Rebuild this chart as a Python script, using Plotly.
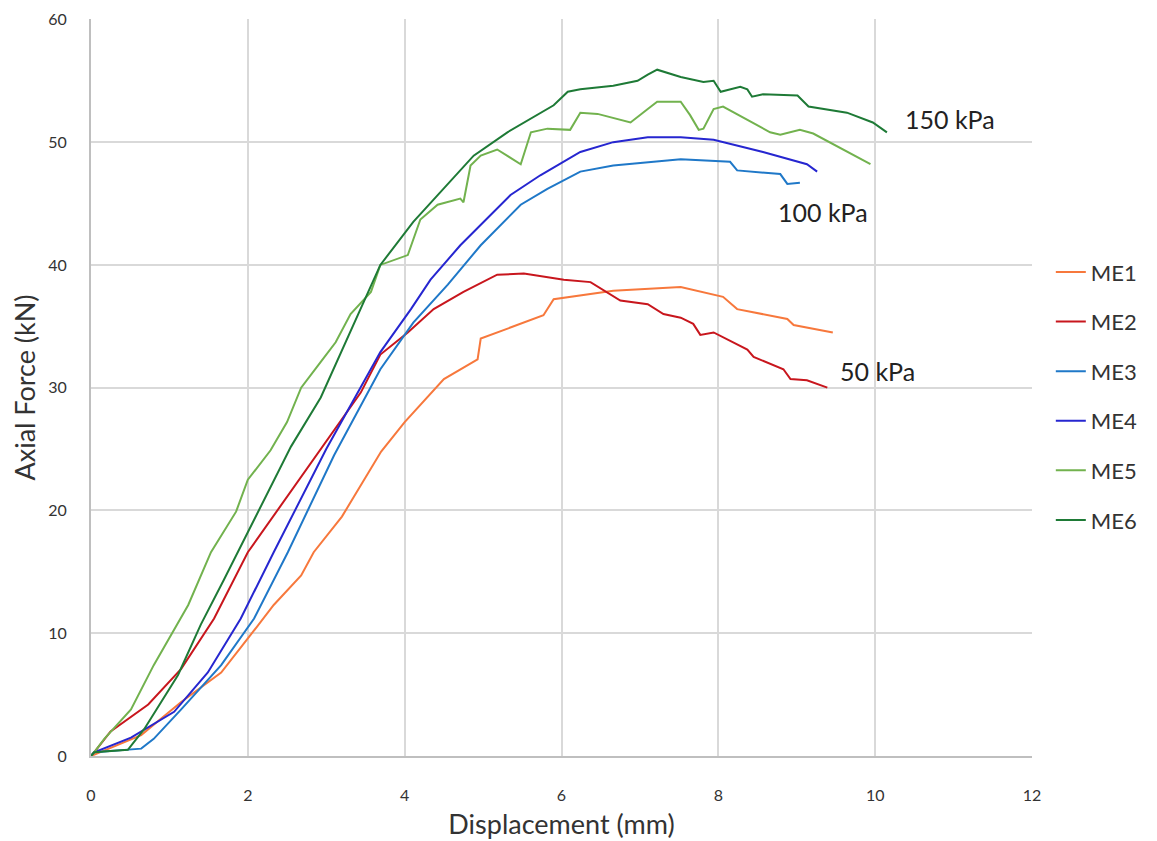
import plotly.graph_objects as go

me1_x = [0, 0.64, 1.15, 1.66, 2.04, 2.33, 2.68, 2.84, 3.2, 3.57, 3.7, 4.0, 4.5, 4.93, 4.97, 5.77, 5.9, 6.66, 7.52, 8.06, 8.24, 8.88, 8.96, 9.46]
me1_y = [0, 1.7, 4.4, 6.8, 9.9, 12.3, 14.7, 16.6, 19.5, 23.5, 24.8, 27.2, 30.7, 32.3, 34.0, 35.9, 37.2, 37.9, 38.2, 37.4, 36.4, 35.6, 35.1, 34.5]

me2_x = [0, 0.04, 0.25, 0.73, 1.15, 1.57, 2.0, 2.68, 3.18, 3.44, 3.69, 4.04, 4.37, 4.75, 5.18, 5.52, 6.03, 6.37, 6.75, 7.1, 7.3, 7.52, 7.68, 7.77, 7.94, 8.37, 8.45, 8.83, 8.92, 9.13, 9.39]
me2_y = [0, 0.3, 2.0, 4.2, 7.1, 11.2, 16.6, 22.7, 27.2, 29.6, 32.7, 34.5, 36.4, 37.8, 39.2, 39.3, 38.8, 38.6, 37.1, 36.8, 36.0, 35.7, 35.2, 34.3, 34.5, 33.1, 32.5, 31.5, 30.7, 30.6, 30.0]

me3_x = [0, 0.04, 0.64, 0.8, 1.15, 1.66, 2.08, 2.51, 3.1, 3.69, 4.11, 4.55, 4.97, 5.48, 5.82, 6.24, 6.66, 7.52, 8.15, 8.24, 8.79, 8.88, 9.04]
me3_y = [0, 0.3, 0.6, 1.4, 3.8, 7.4, 11.2, 16.6, 24.5, 31.5, 35.3, 38.4, 41.6, 44.9, 46.2, 47.6, 48.1, 48.6, 48.4, 47.7, 47.4, 46.6, 46.7]

me4_x = [0, 0.04, 0.51, 1.06, 1.49, 1.91, 2.33, 3.0, 3.69, 4.08, 4.33, 4.71, 5.35, 5.73, 6.24, 6.66, 7.1, 7.52, 7.94, 8.57, 9.13, 9.26]
me4_y = [0, 0.3, 1.5, 3.6, 6.8, 11.2, 16.6, 25.0, 32.9, 36.4, 38.8, 41.6, 45.7, 47.3, 49.2, 50.0, 50.4, 50.4, 50.2, 49.2, 48.2, 47.6]

me5_x = [0, 0.04, 0.17, 0.51, 0.8, 1.24, 1.53, 1.85, 2.0, 2.29, 2.5, 2.68, 2.93, 3.12, 3.31, 3.57, 3.69, 4.04, 4.2, 4.42, 4.71, 4.75, 4.84, 4.97, 5.18, 5.39, 5.48, 5.61, 5.82, 6.11, 6.24, 6.46, 6.88, 7.1, 7.22, 7.52, 7.64, 7.75, 7.81, 7.94, 8.06, 8.66, 8.79, 9.04, 9.21, 9.94]
me5_y = [0, 0.3, 1.4, 3.8, 7.4, 12.3, 16.6, 19.9, 22.5, 24.9, 27.2, 30.0, 32.1, 33.7, 36.0, 37.8, 40.0, 40.8, 43.7, 44.9, 45.4, 45.1, 48.1, 48.9, 49.4, 48.6, 48.2, 50.8, 51.1, 51.0, 52.4, 52.3, 51.6, 52.7, 53.3, 53.3, 52.2, 51.0, 51.1, 52.7, 52.9, 50.8, 50.6, 51.0, 50.7, 48.2]

me6_x = [0, 0.04, 0.47, 0.68, 1.11, 1.4, 1.69, 1.87, 2.17, 2.55, 2.93, 3.25, 3.69, 4.11, 4.42, 4.88, 5.31, 5.61, 5.9, 6.08, 6.24, 6.66, 6.97, 7.1, 7.22, 7.52, 7.81, 7.94, 7.99, 8.03, 8.28, 8.37, 8.43, 8.57, 9.01, 9.15, 9.64, 9.97, 10.15]
me6_y = [0, 0.3, 0.5, 2.2, 6.6, 10.7, 14.3, 16.6, 20.3, 25.2, 29.2, 33.7, 40.0, 43.5, 45.7, 48.9, 50.8, 51.9, 53.0, 54.1, 54.3, 54.6, 55.0, 55.5, 55.9, 55.3, 54.9, 55.0, 54.5, 54.1, 54.5, 54.3, 53.7, 53.9, 53.8, 52.9, 52.4, 51.6, 50.8]

names = ["ME1", "ME2", "ME3", "ME4", "ME5", "ME6"]
colors = ["#F7783C", "#C8161D", "#1F78C8", "#2626D0", "#72B24E", "#1E7A36"]
xs = [me1_x, me2_x, me3_x, me4_x, me5_x, me6_x]
ys = [me1_y, me2_y, me3_y, me4_y, me5_y, me6_y]

labels = ["150 kPa", "100 kPa", "50 kPa"]
label_x = [10.95, 9.34, 10.03]
label_y = [51.9, 44.3, 31.4]

FONT = "Lato, 'Open Sans', sans-serif"

fig = go.Figure()
for n, c, x, y in zip(names, colors, xs, ys):
    fig.add_trace(go.Scatter(x=x, y=y, mode="lines", name=n, legendgroup=n,
                             line=dict(color=c, width=2)))

for t, lx, ly in zip(labels, label_x, label_y):
    fig.add_annotation(x=lx, y=ly, text=t, showarrow=False,
                       font=dict(family=FONT, size=25, color="#222222"))

fig.update_layout(
    width=1157, height=841,
    margin=dict(l=83, r=133, t=11, b=93, autoexpand=False),
    paper_bgcolor="white", plot_bgcolor="white",
    font=dict(family=FONT, size=16, color="#333333"),
    legend=dict(x=1.02, y=0.685, xanchor="left", yanchor="top",
                font=dict(size=22, color="#333333"), tracegroupgap=18,
                bgcolor="rgba(0,0,0,0)"),
    xaxis=dict(range=[0, 12], dtick=2, showgrid=True, gridcolor="#D9D9D9", gridwidth=2,
               showline=True, linecolor="#BFBFBF", linewidth=2, zeroline=False,
               automargin=False,
               ticks="", ticklabelstandoff=24, ticklabeloverflow="allow",
               title=dict(text="Displacement (mm)", font=dict(size=27, color="#333333"), standoff=12)),
    yaxis=dict(range=[0, 60.03], tickvals=[0, 10, 20, 30, 40, 50, 60], showgrid=True,
               gridcolor="#D9D9D9", gridwidth=2, automargin=False,
               showline=True, linecolor="#BFBFBF", linewidth=2, zeroline=False,
               ticks="", ticklabelstandoff=19, ticklabeloverflow="allow",
               title=dict(text="Axial Force (kN)", font=dict(size=27, color="#333333"), standoff=8)),
)

fig.write_html("out.html")
